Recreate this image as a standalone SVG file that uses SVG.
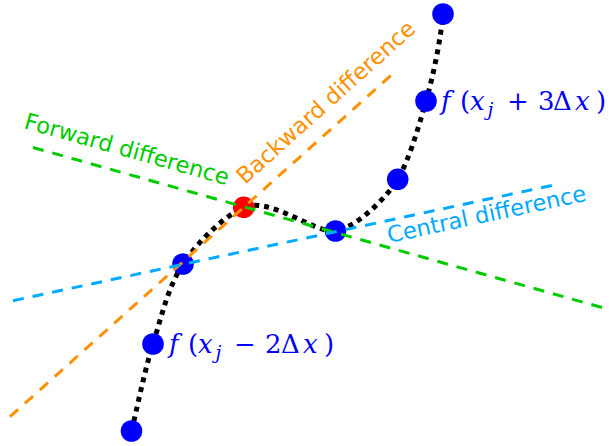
<svg xmlns="http://www.w3.org/2000/svg" width="609" height="446" viewBox="0 0 609 446">
<style>
  .curve{fill:none;stroke:#000;stroke-width:5;stroke-dasharray:5 5}
  .pt{fill:#0000ff}
  .red{fill:#ff0000}
  .dl{fill:none;stroke-width:3;stroke-dasharray:11 9}
  .fwd{stroke:#00cc00}
  .bwd{stroke:#ff9000}
  .cen{stroke:#00aaff}
  .lbl{font-family:"DejaVu Sans","Liberation Sans",sans-serif;font-size:22.6px}
  .math{font-family:"DejaVu Serif","Liberation Serif",serif;font-size:26px;fill:#0000ff}
  .it{font-style:italic}
</style>
<rect width="609" height="446" fill="#fff"/>
<g id="curve">
  <path class="curve" d="M131.5,431 C138.5,402 144.3,371.8 153,344 C161.7,316 168,287 183,264 C198,241 226,215 243.7,207.3 C269.7,196 315.5,234 335.5,231 C355.5,228 386.7,198 397.7,179.3 C408.7,160.6 418.2,128.7 426,101 C433.8,73.3 440,43 443,14"/>
</g>
<g id="p0"><circle class="pt" cx="131.5" cy="431" r="10.8"/></g>
<g id="p1"><circle class="pt" cx="153" cy="344" r="10.8"/>
  <text class="math" y="353"><tspan class="it" x="169">f</tspan><tspan x="188">(</tspan><tspan class="it" x="198">x</tspan><tspan class="it" x="215.5" dy="6" font-size="19">j</tspan><tspan x="234" dy="-6">−</tspan><tspan x="265">2</tspan><tspan x="281">Δ</tspan><tspan class="it" x="303">x</tspan><tspan x="324">)</tspan></text>
</g>
<g id="p2"><circle class="pt" cx="183" cy="264" r="10.8"/></g>
<g id="p3"><circle class="red" cx="243.7" cy="207.3" r="10.8"/></g>
<g id="p4"><circle class="pt" cx="335.5" cy="231" r="10.8"/></g>
<g id="p5"><circle class="pt" cx="397.7" cy="179.3" r="10.8"/></g>
<g id="p6"><circle class="pt" cx="426" cy="101" r="10.8"/>
  <text class="math" y="110"><tspan class="it" x="441">f</tspan><tspan x="460">(</tspan><tspan class="it" x="470">x</tspan><tspan class="it" x="487.5" dy="6" font-size="19">j</tspan><tspan x="507" dy="-6">+</tspan><tspan x="538">3</tspan><tspan x="553">Δ</tspan><tspan class="it" x="575">x</tspan><tspan x="596">)</tspan></text>
</g>
<g id="p7"><circle class="pt" cx="443" cy="14" r="10.8"/></g>
<g id="connectors">
  <line class="dl fwd" x1="33" y1="147.5" x2="609" y2="309.5"/>
  <line class="dl bwd" x1="10" y1="416.7" x2="397" y2="70"/>
  <line class="dl cen" x1="13" y1="300.7" x2="554" y2="185"/>
</g>
<g id="labels">
  <text class="lbl" fill="#00cc00" x="23" y="128" transform="rotate(15.7 23 128)">Forward difference</text>
  <text class="lbl" fill="#ff9000" x="245" y="185" transform="rotate(-41.9 245 185)">Backward difference</text>
  <text class="lbl" fill="#00aaff" x="389" y="243" transform="rotate(-12.1 389 243)">Central difference</text>
</g>
</svg>
